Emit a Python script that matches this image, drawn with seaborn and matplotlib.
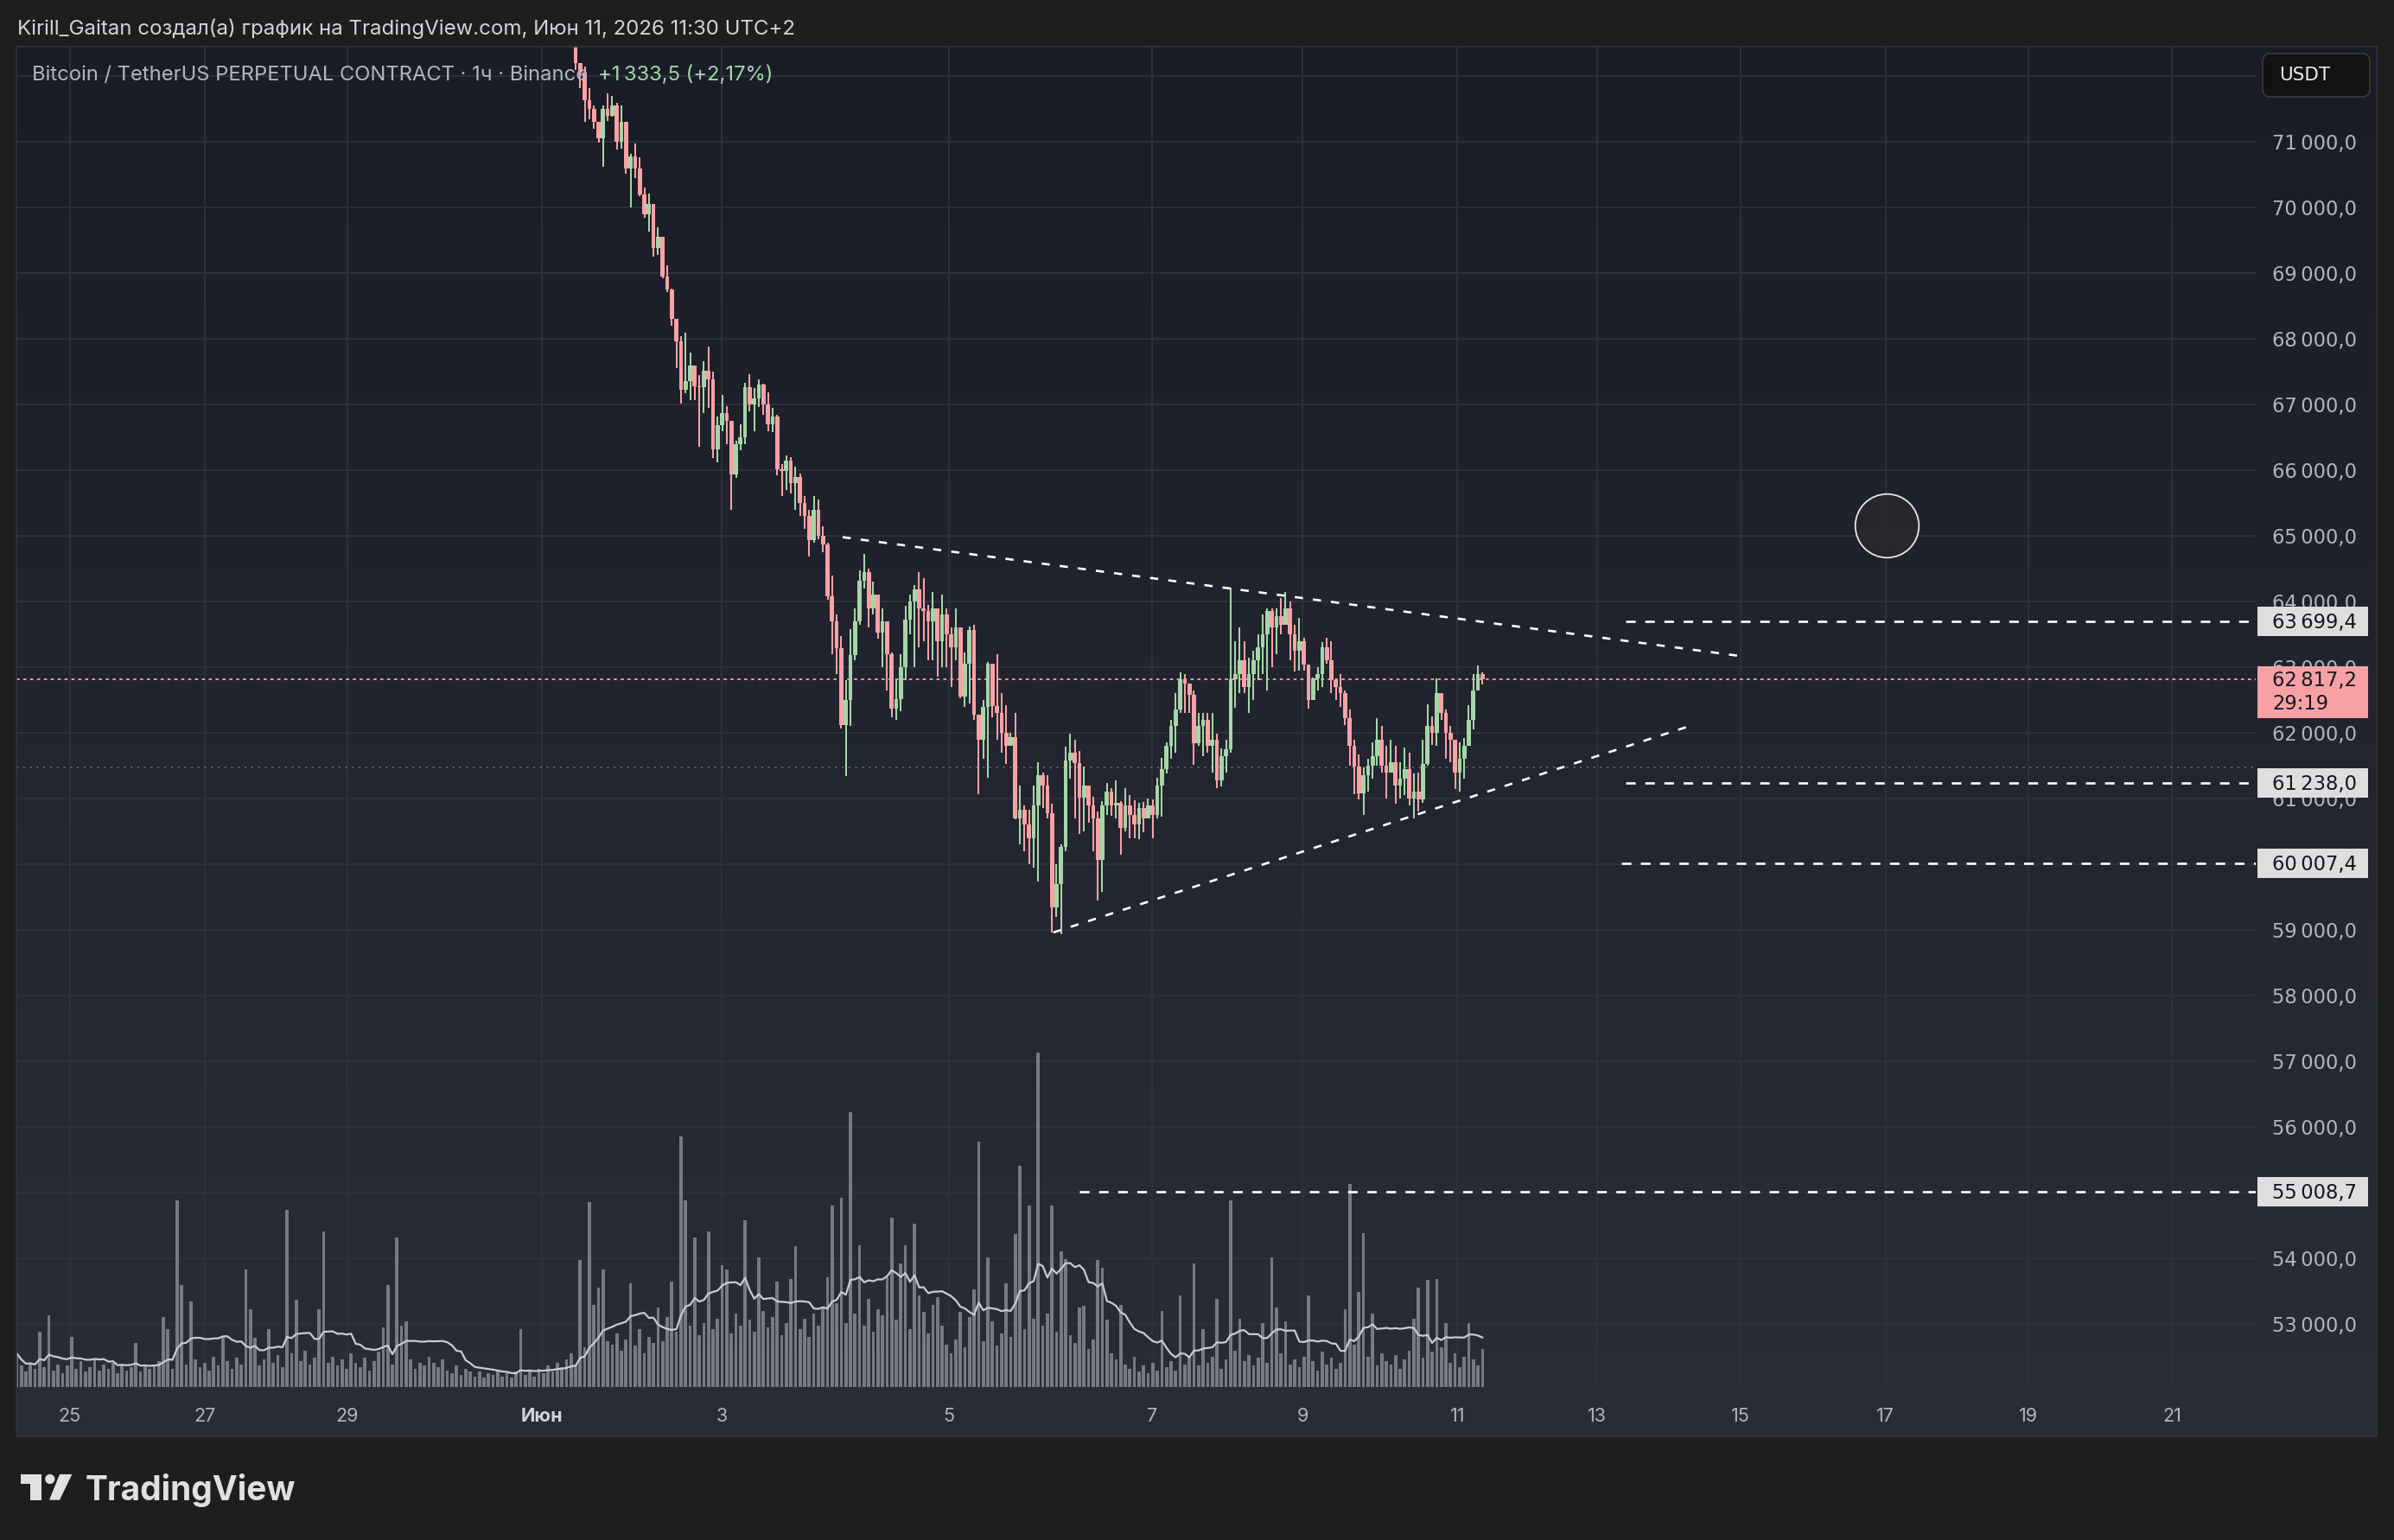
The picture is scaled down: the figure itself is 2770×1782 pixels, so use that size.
import numpy as np
import pandas as pd
import matplotlib
matplotlib.use("Agg")
import matplotlib.pyplot as plt
import matplotlib.transforms as mtransforms
from matplotlib.patches import Rectangle, FancyBboxPatch, Circle, Polygon
from matplotlib.colors import LinearSegmentedColormap
import seaborn as sns

# ------------------------------------------------------------------ data
# hourly bars; bar index 0 = left edge of the pane
candle_start = 122
first_open = 72450
closes = [
    72200, 72050, 71640, 71500, 71300, 71050, 71500, 71400, 71550, 71000,
    71300, 70600, 70780, 70600, 70200, 69900, 70050, 69380, 69550, 68950,
    68750, 68300, 67960, 67230, 67360, 67600, 67280, 67260, 67520, 67380,
    66320, 66690, 66870, 66750, 65930, 66400, 66500, 67260, 67000, 67090,
    67300, 67000, 66700, 66820, 66010, 65990, 66150, 65800, 65900, 65500,
    65300, 64940, 65400, 65000, 64870, 64080, 63700, 63290, 62120, 62500,
    63180, 63700, 64320, 64450, 63900, 64100, 63530, 63700, 63200, 62370,
    62510, 63000, 63730, 64000, 64190, 63900, 63850, 63700, 63900, 63400,
    63800, 63500, 63300, 63600, 62550, 63050, 63560, 62270, 61900, 62400,
    63050, 62410, 62300, 62000, 61800, 61930, 60700, 60830, 60600, 60390,
    60900, 61360, 61200, 60780, 59340, 59700, 60260, 61580, 61700, 61540,
    61010, 61200, 60900, 60700, 60070, 60900, 61100, 60900, 60940, 60550,
    60900, 60750, 60600, 60850, 60700, 60900, 60750, 61200, 61450, 61800,
    62100, 62350, 62810, 62750, 62580, 61840, 62100, 62200, 61800, 61900,
    61280, 61650, 61750, 62810, 62900, 63100, 62700, 62900, 63100, 63300,
    63500, 63850, 63600, 63780, 63650, 63900, 63500, 63250, 63400, 63035,
    62500, 62830, 62900, 63300, 63100, 62800, 62700, 62600, 62230, 61800,
    61490, 61080, 61350, 61500, 61650, 61900, 61500, 61400, 61550, 61200,
    61300, 61450, 61000, 61100, 60990, 61530, 62100, 62000, 62600, 62300,
    62000, 61900, 61400, 61600, 61800, 62200, 62640, 62900, 62817,
]
highs = [
    72480, 72200, 72150, 71825, 71550, 71300, 71560, 71740, 71700, 71600,
    71560, 71310, 70820, 70980, 70770, 70300, 70215, 70000, 69700, 69480,
    69120, 68760, 68300, 68040, 68100, 67790, 67600, 67450, 67660, 67880,
    67500, 66820, 67150, 66980, 66700, 66450, 66700, 67330, 67460, 67250,
    67380, 67320, 67190, 66950, 66850, 66100, 66230, 66200, 66050, 65950,
    65600, 65400, 65600, 65550, 65150, 64900, 64400, 63800, 63470, 62800,
    63575, 63900, 64480, 64725, 64500, 64300, 64000, 63900, 63580, 63230,
    62800, 63200, 63930, 64100, 64250, 64450, 64350, 63950, 64150, 63800,
    64100, 63900, 63600, 63900, 63300, 63220, 63620, 63650, 62260, 62500,
    63080, 63050, 63200, 62600, 62420, 62000, 62300, 61200, 60900, 60830,
    61200, 61550, 61400, 61360, 60920, 60000, 60300, 61790, 61980, 61900,
    61720, 61480, 61200, 61020, 60800, 60960, 61240, 61160, 61280, 60960,
    61160, 61050, 60970, 60930, 60950, 61000, 60980, 61320, 61620, 61850,
    62200, 62600, 62920, 62900, 62700, 62650, 62300, 62300, 62300, 62300,
    61980, 61760, 61900, 64210, 63400, 63600, 63400, 63150, 63250, 63500,
    63800, 63900, 63900, 63900, 64050, 64150, 64000, 63650, 63750, 63450,
    63035, 62840, 63000, 63380, 63450, 63400, 62820, 62900, 62650, 62350,
    61900, 61670, 61470, 61600, 61860, 62230, 62100, 61800, 61900, 61800,
    61550, 61770, 61700, 61380, 61400, 61900, 62430, 62250, 62830, 62600,
    62350, 62100, 61800, 61850, 61920, 62420, 62900, 63030, 62920,
]
lows = [
    72100, 71820, 71310, 71350, 71200, 70990, 70620, 71320, 71380, 70880,
    70900, 70520, 70000, 70450, 70180, 69850, 69640, 69250, 69280, 68930,
    68710, 68200, 67550, 67010, 67170, 67070, 67070, 66360, 66870, 66950,
    66190, 66120, 66600, 66400, 65400, 65880, 66300, 66400, 66900, 66600,
    66960, 66850, 66600, 66580, 65920, 65600, 65700, 65650, 65400, 65300,
    65100, 64690, 64900, 64950, 64750, 64030, 63200, 62900, 62060, 61340,
    62100, 63100, 63650, 64200, 63600, 63800, 63440, 63000, 62650, 62240,
    62200, 62330, 62800, 63500, 63000, 63300, 63400, 63100, 63100, 62850,
    63000, 63000, 62700, 63100, 62530, 62400, 62450, 62200, 61070, 61600,
    61320, 62240, 61900, 61700, 61520, 61800, 60680, 60300, 60200, 60000,
    59950, 59740, 60850, 60700, 58960, 59200, 58930, 60200, 61300, 60700,
    60460, 60500, 60630, 60200, 59450, 59580, 60750, 60730, 60700, 60150,
    60500, 60400, 60400, 60380, 60480, 60700, 60400, 60700, 60720, 61380,
    61600, 61700, 62300, 62300, 62300, 61510, 61800, 61650, 61700, 61400,
    61160, 61180, 61400, 61700, 62380, 62600, 62600, 62300, 62500, 62800,
    62900, 62650, 63000, 63200, 63500, 63650, 63100, 62930, 62950, 62950,
    62370, 62500, 62650, 62700, 63050, 62600, 62500, 62400, 62120, 61500,
    61070, 60990, 60750, 61100, 61300, 61500, 61400, 61000, 61400, 60920,
    61000, 61050, 60900, 60690, 60800, 60940, 61500, 61820, 61800, 62200,
    61600, 61550, 61150, 61100, 61300, 61900, 62050, 62640, 62740,
]
volumes = [
    22, 14, 10, 16, 12, 36, 13, 47, 11, 15,
    9, 14, 33, 12, 17, 10, 13, 18, 11, 15,
    12, 16, 9, 14, 11, 13, 29, 10, 15, 12,
    14, 17, 46, 38, 12, 122, 67, 15, 56, 18,
    13, 16, 11, 20, 14, 33, 17, 12, 19, 15,
    77, 51, 32, 14, 18, 38, 16, 21, 13, 116,
    22, 57, 17, 24, 15, 19, 51, 102, 16, 20,
    14, 18, 12, 22, 16, 13, 19, 11, 17, 23,
    39, 67, 15, 98, 40, 43, 18, 12, 16, 14,
    20, 16, 13, 18, 11, 9, 14, 8, 12, 10,
    7, 10, 6, 9, 8, 11, 7, 9, 6, 10,
    38, 8, 11, 7, 12, 9, 14, 10, 16, 13,
    18, 22, 15, 83, 26, 121, 54, 65, 77, 30,
    28, 35, 24, 31, 68, 27, 38, 22, 33, 29,
    52, 30, 46, 69, 36, 164, 122, 40, 98, 34,
    42, 102, 38, 45, 80, 77, 35, 48, 40, 109,
    44, 36, 85, 50, 39, 46, 69, 34, 42, 71,
    92, 38, 45, 33, 48, 40, 52, 72, 119, 55,
    124, 42, 180, 48, 93, 40, 58, 36, 51, 47,
    72, 111, 44, 81, 93, 38, 107, 60, 49, 35,
    54, 59, 40, 28, 22, 31, 49, 26, 46, 64,
    161, 30, 85, 43, 27, 35, 68, 33, 100, 145,
    38, 119, 45, 219, 40, 48, 119, 36, 89, 84,
    34, 29, 52, 53, 25, 31, 83, 78, 44, 22,
    18, 54, 15, 12, 20, 10, 14, 9, 16, 11,
    50, 13, 17, 11, 60, 15, 19, 81, 14, 38,
    16, 20, 58, 12, 18, 122, 24, 45, 17, 21,
    14, 19, 42, 16, 85, 52, 22, 43, 15, 18,
    13, 20, 60, 17, 11, 23, 15, 19, 12, 16,
    51, 133, 28, 62, 101, 20, 48, 14, 22, 17,
    15, 21, 12, 18, 24, 45, 65, 19, 70, 23,
    71, 26, 42, 16, 22, 13, 20, 42, 18, 14, 25,
]
date_tick_pos = [11.6, 41.1, 72.1, 114.6, 153.9, 203.5, 247.8, 280.7, 314.5,
                 345.0, 376.3, 408.0, 439.2, 470.5]
date_tick_labels = ["25", "27", "29", "Июн", "3", "5", "7", "9", "11",
                    "13", "15", "17", "19", "21"]
price_ticks = list(range(53000, 72000, 1000))
grid_prices = list(range(53000, 73000, 1000))
last_price = 62817.2
countdown = "29:19"
ref_line_price = 61472
levels = [63699.4, 61238.0, 60007.4, 55008.7]
level_start = [351.3, 351.3, 350.3, 232.0]
upper_x, upper_y = [180.3, 375.7], [64980, 63175]
lower_x, lower_y = [226.3, 366.3], [58959, 62128]
circle_x, circle_y = 408.3, 65160
change_text = "+1\u2009333,5 (+2,17%)"
title_text = "Bitcoin / TetherUS PERPETUAL CONTRACT · 1ч · Binance"
header_text = "Kirill_Gaitan создал(а) график на TradingView.com, Июн 11, 2026 11:30 UTC+2"

# ------------------------------------------------------------------ style
sns.set_theme(style="dark")
SANS = ["Inter", "Roboto", "DejaVu Sans"]
plt.rcParams["font.family"] = SANS

UP, DOWN = "#a5d6a7", "#faa1a4"
GRID = "#2d313c"
TXT = "#b2b5be"

W, H, DPI = 2770, 1782, 100
fig = plt.figure(figsize=(W / DPI, H / DPI), dpi=DPI, facecolor="#1e1e1e")
PX = mtransforms.Affine2D().scale(1.0 / W, -1.0 / H).translate(0, 1) + fig.transFigure

# pane background (gradient)
PL, PR, PT, PB = 19, 2750, 53.5, 1662
bg = fig.add_axes([PL / W, 1 - PB / H, (PR - PL) / W, (PB - PT) / H], zorder=-10)
bg.imshow(np.linspace(0, 1, 256)[:, None], aspect="auto",
          cmap=LinearSegmentedColormap.from_list("bg", ["#1a1d28", "#2a2d38"]))
bg.set_axis_off()
fig.add_artist(Rectangle((PL, PT), PR - PL, PB - PT, transform=PX, fill=False,
                         ec="#30333c", lw=1.2))

# axes
AL, AR, AT, AB = 19, 2610, 53.5, 1605
ax_v = fig.add_axes([AL / W, 1 - AB / H, (AR - AL) / W, (AB - AT) / H])
ax = ax_v.twinx()
for a in (ax_v, ax):
    a.set_facecolor("none")
    a.grid(False)
    for s in a.spines.values():
        s.set_visible(False)

XMIN, XMAX = -0.08, 488.8
YMIN, YMAX = 52035, 72458

# grid
for xp in date_tick_pos:
    ax_v.axvline(xp, color=GRID, lw=1.4, zorder=0)
gtrans = mtransforms.blended_transform_factory(ax_v.transAxes, ax.transData)
for p in grid_prices:
    ax_v.plot([0, 1], [p, p], transform=gtrans, color=GRID, lw=1.4, zorder=0)

# volume + MA
idx = np.arange(len(volumes))
ax_v.bar(idx, volumes, width=0.7, color="#777a84", linewidth=0, zorder=1)
ma = pd.Series(volumes, dtype=float).rolling(15, min_periods=1).mean()
sns.lineplot(x=idx, y=ma.values, ax=ax_v, color="#c9cbd1", linewidth=1.6, zorder=2)

# candles
c = np.array(closes, dtype=float)
o = np.r_[first_open, c[:-1]]
hh = np.maximum(np.array(highs, dtype=float), np.maximum(o, c))
ll = np.minimum(np.array(lows, dtype=float), np.minimum(o, c))
cidx = np.arange(candle_start, candle_start + len(c))
col = np.where(c >= o, UP, DOWN)
ax.axhline(last_price, color=DOWN, lw=1.3, ls=(0, (2.0, 2.4)), zorder=1)
ax.axhline(ref_line_price, color="#5f626c", lw=1.3, ls=(0, (1.3, 3.0)), zorder=1)
ax.vlines(cidx, ll, hh, colors=col, lw=1.45, zorder=3)
ax.bar(cidx, c - o, bottom=o, width=0.88, color=col, linewidth=0, zorder=4)

# drawings
DASH = (0, (3.6, 4.4))
ax.plot(upper_x, upper_y, color="white", lw=1.9, ls=DASH, zorder=6)
ax.plot(lower_x, lower_y, color="white", lw=1.9, ls=DASH, zorder=6)
for lv, xs in zip(levels, level_start):
    ax.plot([xs, XMAX], [lv, lv], color="white", lw=1.9, ls=(0, (4.2, 4.2)), zorder=6,
            solid_capstyle="butt")
ax.plot([circle_x], [circle_y], marker="o", ms=53, mfc=(0.16, 0.16, 0.17, 0.85),
        mec="#e8e8e8", mew=1.3, zorder=6)

# limits
ax_v.set_xlim(XMIN, XMAX)
ax_v.set_ylim(0, (AB - AT) / 1.7666)
ax.set_ylim(YMIN, YMAX)
ax_v.set_xlabel("")
ax_v.set_ylabel("")

# ticks
ax_v.set_yticks([])
ax_v.set_xticks(date_tick_pos, date_tick_labels)
ax_v.tick_params(axis="x", length=0, pad=17, labelsize=15.5, labelcolor=TXT)
for t in ax_v.get_xticklabels():
    t.set_family(SANS)
    if t.get_text() == "Июн":
        t.set_fontweight("bold")
        t.set_color("#d1d4dc")


def fmt(v):
    v10 = int(round(v * 10))
    whole, dec = divmod(v10, 10)
    return f"{whole // 1000}\u2009{whole % 1000:03d},{dec}"


ax.set_yticks(price_ticks, [fmt(p) for p in price_ticks])
ax.tick_params(axis="y", length=0, pad=13.7, labelsize=16.3, labelcolor=TXT)
for t in ax.get_yticklabels():
    t.set_family("DejaVu Sans")

# price tags
ppp = (YMAX - YMIN) / (AB - AT)
ttrans = mtransforms.blended_transform_factory(fig.transFigure, ax.transData)


def tag(price, text, fc, tc, up_px=17, down_px=17, text_off_px=0.0):
    ax.add_patch(Rectangle((2612 / W, price - down_px * ppp), 128 / W,
                           (up_px + down_px) * ppp, transform=ttrans, fc=fc, ec="none",
                           clip_on=False, zorder=20))
    ax.text(2629 / W, price - text_off_px * ppp, text, transform=ttrans, color=tc,
            fontsize=16.3, family="DejaVu Sans", va="center", ha="left",
            linespacing=1.22, zorder=21, clip_on=False)


for lv in levels:
    tag(lv, fmt(lv), "#dedede", "#131722", text_off_px=1.5)
tag(last_price, fmt(last_price) + "\n" + countdown, "#f7a1a5", "#131722",
    up_px=15, down_px=45, text_off_px=15.5)

# USDT box
fig.add_artist(FancyBboxPatch((2618, 62), 124, 50, boxstyle="round,pad=0,rounding_size=9",
                              transform=PX, fc="#121212", ec="#3c3c3c", lw=1.2))
fig.text(2637, 87, "USDT", transform=PX, color="#ececec", fontsize=15.5,
         family="DejaVu Sans", va="center", ha="left")

# header / legend
fig.text(20, 40, header_text, transform=PX, color="#d1d4dc", fontsize=17.3,
         family=SANS, va="baseline", ha="left")
fig.text(37, 92.7, title_text, transform=PX, color=TXT, fontsize=17.1,
         family=SANS, va="baseline", ha="left")
fig.text(692, 92.7, change_text, transform=PX, color="#a5d6a7", fontsize=17.1,
         family=SANS, va="baseline", ha="left")

# TradingView logo
LC = "#e0e0e0"
fig.add_artist(Rectangle((24, 1706), 24, 11.3, transform=PX, fc=LC, ec="none"))
fig.add_artist(Rectangle((35, 1706), 12.7, 29.7, transform=PX, fc=LC, ec="none"))
fig.add_artist(Circle((57.8, 1711.5), 5.6, transform=PX, fc=LC, ec="none"))
fig.add_artist(Polygon([(69, 1706), (83.3, 1706), (69, 1735.7), (57, 1735.7)],
                       closed=True, transform=PX, fc=LC, ec="none"))
fig.text(98.3, 1735.7, "TradingView", transform=PX, color=LC, fontsize=28,
         fontweight="bold", family=SANS, va="baseline", ha="left")

fig.savefig("out.png", dpi=DPI, facecolor=fig.get_facecolor())
